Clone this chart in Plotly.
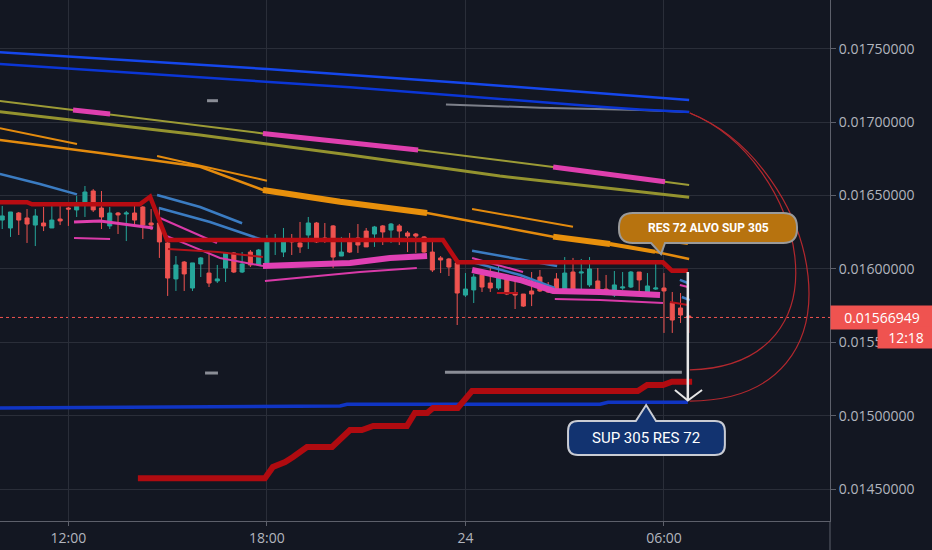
import plotly.graph_objects as go

# 15 minute candles, x in hours from 00:00 on the 23rd (24 = midnight)
hours = [10 + 0.25 * i for i in range(84)]

opens = [0.016333, 0.016279, 0.016381, 0.016347, 0.016299, 0.016313, 0.016279, 0.016340, 0.016415, 0.016402,
         0.016449, 0.016531, 0.016415, 0.016293, 0.016381, 0.016374, 0.016381, 0.016422, 0.016313, 0.016313,
         0.016177, 0.015932, 0.016047, 0.015870, 0.016034, 0.015972, 0.015918, 0.016006, 0.016109, 0.015979,
         0.016115, 0.016027, 0.016041, 0.016190, 0.016115, 0.016204, 0.016177, 0.016231, 0.016313, 0.016211,
         0.016293, 0.016088, 0.016204, 0.016211, 0.016258, 0.016238, 0.016293, 0.016265, 0.016293, 0.016245,
         0.016238, 0.016218, 0.016115, 0.016075, 0.016068, 0.016041, 0.015822, 0.015857, 0.015959, 0.015904,
         0.015870, 0.015952, 0.015836, 0.015829, 0.015850, 0.015945, 0.015884, 0.015932, 0.015857, 0.015979,
         0.015972, 0.015891, 0.015918, 0.015863, 0.015822, 0.015870, 0.015877, 0.015979, 0.015843, 0.015863,
         0.015870, 0.015768, 0.015734, 0.015679]
highs = [0.016429, 0.016388, 0.016388, 0.016408, 0.016408, 0.016422, 0.016449, 0.016449, 0.016422, 0.016497,
         0.016565, 0.016544, 0.016531, 0.016422, 0.016388, 0.016395, 0.016449, 0.016429, 0.016408, 0.016422,
         0.016197, 0.016088, 0.016054, 0.016041, 0.016081, 0.016115, 0.016027, 0.016115, 0.016115, 0.016115,
         0.016129, 0.016136, 0.016231, 0.016238, 0.016279, 0.016238, 0.016320, 0.016354, 0.016320, 0.016313,
         0.016299, 0.016218, 0.016245, 0.016306, 0.016279, 0.016293, 0.016299, 0.016313, 0.016306, 0.016258,
         0.016245, 0.016224, 0.016211, 0.016088, 0.016075, 0.016041, 0.015972, 0.015966, 0.015966, 0.016013,
         0.016020, 0.015959, 0.015945, 0.015829, 0.015979, 0.015993, 0.015911, 0.015972, 0.016081, 0.016075,
         0.016068, 0.016081, 0.016006, 0.015959, 0.015986, 0.015979, 0.015986, 0.015979, 0.015972, 0.016047,
         0.015972, 0.015843, 0.015836, 0.015686]
lows = [0.016272, 0.016218, 0.016231, 0.016177, 0.016156, 0.016258, 0.016279, 0.016299, 0.016293, 0.016354,
        0.016354, 0.016388, 0.016272, 0.016272, 0.016238, 0.016190, 0.016293, 0.016204, 0.016265, 0.016075,
        0.015816, 0.015850, 0.015850, 0.015850, 0.015945, 0.015877, 0.015904, 0.015911, 0.015972, 0.015972,
        0.016013, 0.016020, 0.016013, 0.016095, 0.016081, 0.016095, 0.016109, 0.016136, 0.016177, 0.016177,
        0.016006, 0.016088, 0.016109, 0.016109, 0.016150, 0.016150, 0.016163, 0.016177, 0.016163, 0.016115,
        0.016109, 0.016109, 0.015979, 0.015972, 0.015952, 0.015618, 0.015809, 0.015768, 0.015843, 0.015843,
        0.015857, 0.015822, 0.015727, 0.015741, 0.015747, 0.015843, 0.015836, 0.015836, 0.015850, 0.015857,
        0.015863, 0.015877, 0.015843, 0.015822, 0.015809, 0.015857, 0.015870, 0.015836, 0.015836, 0.015857,
        0.015564, 0.015564, 0.015632, 0.015564]
closes = [0.016361, 0.016388, 0.016333, 0.016306, 0.016361, 0.016293, 0.016333, 0.016327, 0.016408, 0.016449,
          0.016524, 0.016402, 0.016354, 0.016381, 0.016368, 0.016381, 0.016333, 0.016299, 0.016299, 0.016184,
          0.015938, 0.016027, 0.015966, 0.016041, 0.016075, 0.015904, 0.015932, 0.016109, 0.015979, 0.016034,
          0.016027, 0.016129, 0.016190, 0.016204, 0.016197, 0.016184, 0.016150, 0.016313, 0.016184, 0.016197,
          0.016081, 0.016115, 0.016115, 0.016163, 0.016150, 0.016286, 0.016252, 0.016306, 0.016258, 0.016224,
          0.016224, 0.016115, 0.015993, 0.016061, 0.016013, 0.015836, 0.015863, 0.015945, 0.015877, 0.015870,
          0.015952, 0.015829, 0.015822, 0.015747, 0.015829, 0.015850, 0.015843, 0.015836, 0.015972, 0.015863,
          0.015979, 0.016000, 0.015857, 0.015829, 0.015891, 0.015877, 0.015979, 0.015925, 0.015884, 0.015870,
          0.015850, 0.015652, 0.015686, 0.01566949]

last_price = 0.01566949

# indicator lines (hours, price); None = gap
blue_top_x = [9.93, 18.00, 23.84, 30.76]
blue_top_y = [0.017476, 0.017362, 0.017269, 0.017151]
blue_mid_x = [9.93, 18.00, 20.51, 28.07, 29.27, 30.76]
blue_mid_y = [0.017396, 0.017271, 0.017237, 0.017105, 0.017086, 0.017069]
gray_top_x = [23.41, 26.25, 29.27, 30.76]
gray_top_y = [0.017121, 0.017098, 0.017083, 0.017069]

olive_a_x = [9.93, 12.14, 13.26, 17.88, 20.51, 22.57, 26.65, 30.03, 30.76]
olive_a_y = [0.017144, 0.017083, 0.017055, 0.016923, 0.016860, 0.016810, 0.016694, 0.016594, 0.016572]
pink_hl_x = [12.14, 13.26, None, 17.88, 20.51, 22.57, None, 26.65, 30.03]
pink_hl_y = [0.017083, 0.017055, None, 0.016923, 0.016860, 0.016810, None, 0.016694, 0.016594]
olive_b_x = [9.93, 15.98, 20.51, 25.04, 30.76]
olive_b_y = [0.017071, 0.016912, 0.016776, 0.016633, 0.016488]

orange_a_x = [9.93, 12.26, None, 14.68, 18.00, None, 24.20, 27.25, None, 30.48, 30.72]
orange_a_y = [0.016958, 0.016851, None, 0.016769, 0.016601, None, 0.016408, 0.016288, None, 0.016177, 0.016170]
orange_b_x = [9.93, 12.96, 15.98, 17.88, 20.21, 22.84, 26.65, 28.37, 29.73, 30.76]
orange_b_y = [0.016878, 0.016790, 0.016696, 0.016538, 0.016458, 0.016381, 0.016220, 0.016170, 0.016117, 0.016068]
orange_thick_x = [17.88, 20.21, 22.84, None, 26.65, 28.37]
orange_thick_y = [0.016538, 0.016458, 0.016381, None, 0.016220, 0.016170]
orange_med_x = [28.37, 29.73]
orange_med_y = [0.016170, 0.016117]

steel_x = [9.93, 11.14, 12.26, None, 14.68, 15.98, 17.25, None, 14.74, 16.28, 17.88, None,
           24.20, 26.77, None, 24.20, 25.65, 26.70, None, 30.48, 30.72, None, 30.54, 30.78]
steel_y = [0.016647, 0.016579, 0.016508, None, 0.016504, 0.016422, 0.016311, None, 0.016415, 0.016320, 0.016197, None,
           0.016124, 0.016020, None, 0.016047, 0.015959, 0.015870, None, 0.015925, 0.015904, None, 0.015809, 0.015788]

pink_thin_x = [12.17, 13.26, None, 14.77, 16.49, None, 14.98, 16.58, 17.88, None, 17.94, 19.60, 20.81, 22.53, None,
               24.20, 25.74, None, 26.70, 28.07, 29.97, None, 30.48, 30.72]
pink_thin_y = [0.016211, 0.016204, None, 0.016347, 0.016177, None, 0.016224, 0.016075, 0.016020, None,
               0.015918, 0.015952, 0.015979, 0.016006, None, 0.016075, 0.015979, None,
               0.015795, 0.015788, 0.015768, None, 0.015891, 0.015877]
pink_mid_x = [12.17, 12.96, 14.56]
pink_mid_y = [0.016320, 0.016327, 0.016279]
pink_thick_x = [17.88, 19.00, 20.51, 21.72, 22.84, None, 24.20, 25.65, 26.65, 28.07, 29.88]
pink_thick_y = [0.016020, 0.016027, 0.016041, 0.016075, 0.016088, None,
                0.015993, 0.015925, 0.015850, 0.015843, 0.015822]

red_thin_x = [15.01, 16.52, 17.88, None, 24.95, 25.59, None, 30.18, 30.72]
red_thin_y = [0.016136, 0.016115, 0.016081, None, 0.015836, 0.015836, None, 0.015775, 0.015754]

res_x = [9.93, 10.75, 10.90, 14.16, 14.47, 14.98, 23.32, 23.77, 29.97, 30.24, 30.72]
res_y = [0.016454, 0.016454, 0.016440, 0.016440, 0.016492, 0.016197, 0.016197, 0.016045, 0.016045, 0.015988, 0.015988]

sup_x = [14.10, 17.94, 18.18, 18.55, 18.79, 19.21, 19.97, 20.51, 20.87, 21.21, 22.23, 22.47, 22.84, 23.02,
         23.77, 24.20, 29.21, 29.49, 29.97, 30.24, 30.85]
sup_y = [0.014574, 0.014574, 0.014651, 0.014685, 0.014719, 0.014787, 0.014787, 0.014903, 0.014903, 0.014930,
         0.014930, 0.015019, 0.015019, 0.015053, 0.015053, 0.015169, 0.015169, 0.015209, 0.015209, 0.015232, 0.015232]

blue_low_x = [9.93, 20.21, 20.42, 28.07, 28.31, 30.72]
blue_low_y = [0.015053, 0.015066, 0.015078, 0.015078, 0.015092, 0.015092]
gray_low_x = [23.38, 30.54, None, 16.13, 16.52, None, 16.19, 16.52]
gray_low_y = [0.015296, 0.015296, None, 0.015291, 0.015291, None, 0.017146, 0.017146]

tick_vals = [12, 18, 24, 30]
tick_text = ["12:00", "18:00", "24", "06:00"]
price_ticks = [0.0145, 0.0150, 0.0155, 0.0160, 0.0165, 0.0170, 0.0175]

BG = "#131722"
GRID = "#2a2e39"
AXIS = "#5d606b"
TXT = "#b2b5be"

fig = go.Figure()


def add_line(xs, ys, color, width):
    fig.add_trace(go.Scatter(x=xs, y=ys, mode="lines", line=dict(color=color, width=width),
                             hoverinfo="skip", showlegend=False))


add_line(blue_top_x, blue_top_y, "#1547ec", 2.5)
add_line(gray_top_x, gray_top_y, "#7d808a", 2)
add_line(blue_mid_x, blue_mid_y, "#0b36d6", 2.5)
add_line(olive_a_x, olive_a_y, "#9c9b36", 2)
add_line(pink_hl_x, pink_hl_y, "#df3fae", 5)
add_line(olive_b_x, olive_b_y, "#94932f", 3)
add_line(orange_a_x, orange_a_y, "#e48b0e", 2)
add_line(orange_b_x, orange_b_y, "#e48b0e", 2.5)
add_line(orange_thick_x, orange_thick_y, "#e8900c", 6)
add_line(orange_med_x, orange_med_y, "#e8900c", 4)
add_line(steel_x, steel_y, "#3b7cc2", 2.5)
add_line(pink_thin_x, pink_thin_y, "#d93aa8", 2)
add_line(pink_mid_x, pink_mid_y, "#df3fae", 3)
add_line(pink_thick_x, pink_thick_y, "#e040b4", 6)
add_line(red_thin_x, red_thin_y, "#b3121a", 2)
add_line(res_x, res_y, "#b80c12", 4.5)
add_line(gray_low_x, gray_low_y, "#8a8d96", 3)
add_line(blue_low_x, blue_low_y, "#1035c4", 3.5)
add_line(sup_x, sup_y, "#b00b10", 6)

fig.add_trace(go.Candlestick(
    x=hours, open=opens, high=highs, low=lows, close=closes,
    increasing=dict(line=dict(color="#26a69a", width=1), fillcolor="#26a69a"),
    decreasing=dict(line=dict(color="#ef5350", width=1), fillcolor="#ef5350"),
    whiskerwidth=0, hoverinfo="skip", showlegend=False,
))


def bubble_path(x0, x1, y0, y1, rx, ry, bl, br, tip, top):
    p = [f"M{x0 + rx},{y1}"]
    if top:
        p += [f"L{bl},{y1}", f"L{tip[0]},{tip[1]}", f"L{br},{y1}"]
    p += [f"L{x1 - rx},{y1}", f"Q{x1},{y1} {x1},{y1 - ry}", f"L{x1},{y0 + ry}",
          f"Q{x1},{y0} {x1 - rx},{y0}"]
    if not top:
        p += [f"L{br},{y0}", f"L{tip[0]},{tip[1]}", f"L{bl},{y0}"]
    p += [f"L{x0 + rx},{y0}", f"Q{x0},{y0} {x0},{y0 + ry}", f"L{x0},{y1 - ry}",
          f"Q{x0},{y1} {x0 + rx},{y1}", "Z"]
    return " ".join(p)


shapes = [
    # last price line
    dict(type="line", xref="paper", x0=0, x1=1, yref="y", y0=last_price, y1=last_price,
         line=dict(color="#ef5350", width=1, dash="dot"), layer="below"),
    # curved drawings
    dict(type="path", path="M30.78,0.017062 C34.26,0.016742 35.77,0.015346 30.78,0.015312",
         line=dict(color="#b3282e", width=1.2)),
    dict(type="path", path="M30.78,0.017062 C34.71,0.016708 36.38,0.015107 30.78,0.015100",
         line=dict(color="#b3282e", width=1.2)),
    # arrow
    dict(type="line", x0=30.72, x1=30.72, y0=0.015979, y1=0.015107,
         line=dict(color="#e6e6e6", width=2.5)),
    dict(type="path", path="M30.33,0.015175 L30.72,0.015104 L31.15,0.015175",
         line=dict(color="#e6e6e6", width=2)),
    # callouts
    dict(type="path", fillcolor="#b7730f", line=dict(color="#9a9a9a", width=2),
         path=bubble_path(28.64, 34.02, 0.016177, 0.016381, 0.42, 0.0000954,
                          29.61, 30.03, (29.91, 0.016102), top=False)),
    dict(type="path", fillcolor="#123370", line=dict(color="#c9ccd4", width=2),
         path=bubble_path(27.10, 31.84, 0.014733, 0.014964, 0.30, 0.000068,
                          29.15, 29.76, (29.46, 0.015073), top=True)),
    # price scale border down to bottom
    dict(type="line", xref="paper", yref="paper", x0=1, x1=1, y0=0, y1=-0.056,
         line=dict(color=AXIS, width=1)),
]

annotations = [
    dict(x=31.33, y=0.016279, text="<b>RES 72 ALVO SUP 305</b>", showarrow=False,
         font=dict(family="Roboto", size=12, color="#ffffff")),
    dict(x=29.47, y=0.014849, text="SUP 305 RES 72", showarrow=False,
         font=dict(family="Roboto", size=15, color="#ffffff")),
    dict(xref="paper", x=1, xanchor="left", y=last_price, text="0.01566949", showarrow=False,
         bgcolor="#ef5350", width=98, borderpad=2,
         font=dict(family="Open Sans", size=14, color="#ffffff")),
    dict(xref="paper", x=1.0566, xanchor="left", y=0.015533, text="12:18", showarrow=False,
         bgcolor="#ef5350", width=54, borderpad=1,
         font=dict(family="Open Sans", size=14, color="#ffffff")),
]

fig.update_layout(
    width=932, height=550,
    margin=dict(l=0, r=102, t=0, b=29),
    paper_bgcolor=BG, plot_bgcolor=BG,
    showlegend=False,
    shapes=shapes, annotations=annotations,
    xaxis=dict(range=[9.933, 35.017], tickvals=tick_vals, ticktext=tick_text,
               showgrid=True, gridcolor=GRID, zeroline=False,
               showline=True, linecolor=AXIS, ticks="outside", ticklen=4, tickcolor=AXIS,
               tickfont=dict(family="Open Sans", size=14, color=TXT),
               rangeslider=dict(visible=False), fixedrange=True),
    yaxis=dict(range=[0.014283, 0.017832], side="right", tickvals=price_ticks, tickformat=".8f",
               showgrid=True, gridcolor=GRID, zeroline=False,
               showline=True, linecolor=AXIS, ticks="outside", ticklen=5, tickcolor=AXIS,
               tickfont=dict(family="Open Sans", size=14, color=TXT), fixedrange=True),
)

# drop the page's default body margin so the chart fills the window
fig.write_html("out.html", config={"displayModeBar": False},
               post_script="document.body.style.margin='0';document.body.style.overflow='hidden';")
